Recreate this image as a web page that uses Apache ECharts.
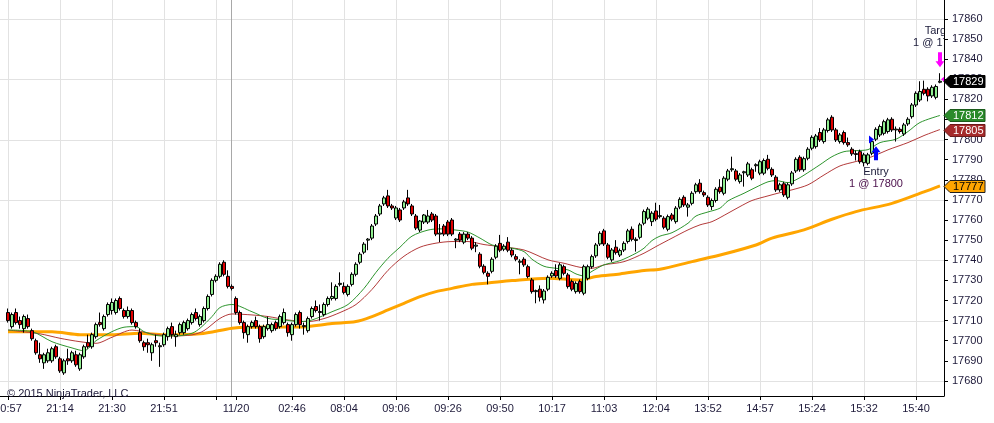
<!DOCTYPE html>
<html><head><meta charset="utf-8">
<script src="https://cdn.jsdelivr.net/npm/echarts@6/dist/echarts.min.js"></script>
<style>html,body{margin:0;padding:0;background:#fff}#c{width:994px;height:423px}</style>
</head><body><div id="c"></div>
<script>
// ---- data: OHLC per bar [open, close, low, high] ----
const ohlc = [
[17714,17710,17709,17716],[17707,17713,17706,17714],[17714,17709,17708,17716],[17710,17708,17706,17712],[17706,17712,17704,17713],
[17711,17707,17706,17713],[17705,17701,17700,17706],[17700,17694,17693,17701],[17693,17691,17689,17699],[17689,17693,17686,17694],
[17690,17694,17689,17696],[17690,17696,17689,17697],[17697,17692,17691,17698],[17691,17685,17684,17692],[17684,17690,17683,17691],
[17691,17690,17688,17696],[17690,17694,17689,17695],[17693,17688,17687,17695],[17686,17693,17685,17694],[17692,17697,17691,17698],
[17699,17697,17696,17703],[17697,17703,17696,17704],[17702,17708,17701,17709],[17709,17708,17707,17714],[17706,17712,17705,17713],
[17713,17718,17712,17719],[17715,17719,17713,17721],[17714,17720,17713,17721],[17721,17716,17715,17722],[17715,17712,17711,17716],
[17712,17715,17711,17717],[17715,17709,17708,17716],[17709,17707,17706,17710],[17704,17700,17699,17706],[17699,17697,17695,17700],
[17699,17698,17694,17701],[17694,17698,17690,17699],[17700,17699,17697,17703],[17697,17697.5,17687,17699],[17698,17703,17697,17704],
[17702,17706,17700,17707],[17707,17703,17701,17709],[17702,17703,17697,17705],[17704,17708,17703,17709],[17704,17709,17703,17710],
[17706,17710,17705,17711],[17709,17713,17708,17714],[17714,17711,17710,17716],[17708,17712,17707,17713],[17710,17716,17709,17717],
[17716,17722,17715,17723],[17723,17730,17722,17731],[17730,17732,17729,17733],[17732,17738,17731,17739],[17739,17733,17732,17740],
[17732,17727,17726,17735],[17727,17726,17725,17728],[17721,17714,17713,17722],[17714,17709,17708,17715],[17709,17704,17701,17710],
[17703,17707,17699,17708],[17707,17709,17706,17710],[17710,17707,17706,17712],[17707,17701,17699,17708],[17702,17707,17701,17708],
[17706,17708,17705,17712],[17705,17708,17704,17709],[17709,17706,17705,17710],[17707,17712,17706,17713],[17709,17714,17708,17716],
[17708,17704,17702,17709],[17703,17708,17700,17709],[17708,17713,17707,17714],[17714,17708,17706,17715],[17707,17707.5,17703,17709],
[17705,17711,17704,17712],[17712,17716,17711,17717],[17717,17715,17714,17720],[17714,17714.5,17710,17718],[17713,17718,17712,17719],
[17718,17721,17717,17722],[17721,17722,17720,17729],[17721,17727,17720,17728],[17728,17728.5,17727,17734],[17727,17724,17723,17729],
[17723,17727,17722,17728],[17728,17733,17727,17734],[17733,17738,17732,17739],[17739,17743,17738,17744],[17744,17748,17743,17749],
[17750,17750.5,17745,17751],[17751,17757,17750,17758],[17758,17762,17757,17763],[17763,17767,17762,17768],[17768,17771,17767,17772],
[17772,17767,17766,17775],[17767,17766,17765,17768],[17761,17766,17760,17767],[17765,17760,17759,17766],[17766,17769,17765,17770],
[17771,17768,17767,17775],[17767,17763,17762,17768],[17762,17756,17755,17763],[17755,17759.5,17754,17760],[17759,17762.5,17758,17763],
[17759,17762,17758,17765],[17763,17760,17759,17764],[17762,17753,17752,17763],[17753,17753.5,17749,17758],[17757,17753,17752,17758],
[17759,17753,17752,17760],[17760,17753,17752,17761],[17750,17750.5,17746,17751],[17753,17750,17749,17754],[17749,17753,17748,17754],
[17753,17751,17750,17754],[17751,17746,17745,17752],[17747,17747.5,17744,17749],[17743,17737,17736,17744],[17737,17734,17733,17738],
[17733.5,17732,17728,17734.5],[17734.5,17740.5,17733.5,17741.5],[17741.5,17747,17740.5,17748],[17748.4,17745,17744,17752.6],[17745.5,17747,17744.5,17748],
[17749,17745,17744,17751.5],[17745,17742.6,17741.5,17746],[17741.8,17740.5,17739.5,17743],[17739,17739.5,17733,17740.5],[17740.5,17737.7,17736.7,17741.5],
[17736.8,17731.9,17731,17737.8],[17730.2,17724.4,17723.4,17731.2],[17724.4,17724.9,17718.6,17725.4],[17725.6,17721.6,17719.5,17727.5],[17720.3,17724.7,17718.5,17725.7],
[17725.6,17731.5,17724.6,17732.5],[17732.2,17733.5,17731.2,17734.5],[17734.9,17732.2,17731.2,17738],[17731,17737.7,17730,17738.7],[17736.8,17733.5,17732.5,17737.8],
[17732.7,17726.9,17725.9,17733.7],[17729.4,17725.6,17724.6,17730.4],[17724.4,17728.5,17723.4,17729.5],[17729.4,17724.4,17723.4,17730.4],[17723.6,17736.8,17722.6,17737.8],
[17731,17736.8,17730,17737.8],[17736.8,17741.8,17735.8,17742.8],[17742.2,17747.6,17741.2,17748.6],[17748.1,17753.4,17747.1,17754.4],[17754.6,17748.1,17747.1,17755.6],
[17747.6,17741.5,17740.5,17748.6],[17740.2,17745.1,17739.2,17746.1],[17746.5,17743.8,17742.8,17750],[17742.6,17744.8,17741.6,17745.8],[17745.1,17748.4,17744.1,17749.4],
[17749.3,17754.6,17748.3,17755.6],[17755.4,17750.4,17749.4,17756.8],[17749.8,17750.4,17744.3,17751.4],[17751.4,17757.6,17750.4,17758.6],[17758.4,17764.2,17757.4,17765.2],
[17760.9,17765.4,17759.9,17766.4],[17759.2,17763.4,17757,17764.4],[17764.5,17760.4,17759.4,17768.6],[17761.7,17762.2,17760.8,17767.5],[17760.9,17756.4,17755.4,17761.9],
[17755.4,17761.7,17754.4,17762.7],[17762.5,17760.4,17759.4,17763.5],[17759.2,17765.9,17758.2,17766.9],[17766.4,17770.3,17765.4,17771.3],[17771.3,17767.5,17766.5,17772.3],
[17766.4,17767.5,17761.7,17768.5],[17768.3,17773.3,17767.3,17774.3],[17774.1,17777.5,17773.1,17778.5],[17778.3,17774.1,17773.1,17780.3],[17773.6,17772.5,17771.5,17774.6],
[17771.3,17767.5,17766.5,17772.3],[17766.7,17769.7,17765,17770.7],[17769.7,17775.3,17768.7,17776.3],[17776.3,17774.1,17773.1,17780.3],[17773.3,17780.8,17772.3,17781.8],
[17780.3,17784.4,17779.3,17785.4],[17785,17785.5,17784,17791.5],[17784.4,17780.3,17779.3,17785.4],[17779.1,17782.4,17778.1,17783.4],[17783.5,17784,17776.6,17784.5],
[17782.4,17787.9,17781.4,17788.9],[17785,17780.8,17779.8,17786],[17787,17787.5,17784,17788.2],[17783.3,17789,17782.3,17790],[17783.3,17789.6,17782.3,17790.6],
[17790.2,17785.7,17784.7,17792.4],[17785.2,17782.4,17781.4,17786.2],[17781.3,17775,17774,17782.3],[17775,17777.5,17774,17778.5],[17778,17772.5,17771.5,17779],
[17771.3,17777.5,17770.3,17778.5],[17778,17783.4,17777,17784.4],[17784.4,17790.2,17783.4,17791.2],[17791.2,17785,17784,17792.2],[17785,17790.5,17784,17791.5],
[17790.7,17795.2,17789.7,17796.2],[17795.7,17801.1,17794.7,17802.1],[17796.5,17801.8,17795.5,17802.8],[17803.5,17799.8,17798.8,17805.7],[17799,17804.8,17798,17805.8],
[17804.5,17809.8,17803.5,17810.8],[17811.1,17804.8,17803.8,17812.1],[17804.8,17799.8,17798.8,17805.8],[17799,17802.3,17798,17803.3],[17803.5,17798.5,17797.5,17804.5],
[17798.5,17797.4,17796.4,17801],[17795.2,17792.9,17791.9,17796.2],[17793,17792.6,17789.6,17794.6],[17794,17789,17788,17795],[17788.5,17792.4,17786.6,17793.4],
[17788.2,17792.4,17787.2,17793.4],[17793.2,17799,17792.2,17800],[17800.2,17805.1,17799.2,17806.1],[17802.3,17806.5,17801.3,17807.5],[17803.1,17808.9,17802.1,17809.9],
[17804,17809.8,17803,17810.8],[17810.1,17804.8,17803.8,17811.1],[17804.8,17805.2,17799,17806.5],[17805.1,17804,17803,17806.1],[17802.8,17807.3,17801.8,17808.3],
[17807.8,17810.1,17806.8,17811.1],[17811.4,17817.2,17810.4,17818.2],[17817.2,17823,17816.2,17824],[17819.7,17823.9,17818.7,17829],[17825,17823,17822,17829.3],
[17825,17821.7,17819,17826],[17821.7,17826,17820.7,17827],[17821,17826.4,17820,17827.4],[17828.5,17829,17828,17833]
];

// ---- moving averages: [bar, value] ----
const maFast = [[0,17705.3],[6,17704.5],[11,17699.5],[16,17696.4],[19,17695],[22,17700],[26,17704.5],[29,17706.7],[32,17707],[34,17704.5],
[38,17702.4],[42,17702.4],[46,17703.7],[48,17706.2],[51,17712],[53,17716.5],[56,17718],[61,17714.4],[65,17711.1],[69,17710.3],[73,17709.5],
[76,17710.3],[81,17714.4],[85,17718],[89,17726],[92,17734],[95,17741],[98,17746.5],[101,17752],[105,17755],[108,17755.6],[112,17755],
[115,17754],[118,17751],[121,17747.6],[123,17746.8],[126,17746],[129,17744.3],[131,17740.5],[134,17737],[137,17736],[140,17735.2],
[142,17733.2],[144,17732.2],[146,17734.5],[149,17737.7],[153,17739.8],[157,17743.5],[159,17746],[161,17749.8],[163,17752],[166,17753.7],
[170,17758.4],[172,17762],[175,17764],[178,17765.9],[180,17769.5],[184,17773.3],[187,17776.3],[190,17779],[192,17779.6],[195,17778.6],
[197,17780],[199,17782.3],[203,17787.5],[206,17791.5],[209,17794],[212,17794.5],[215,17795],[218,17798.5],[222,17800.2],[225,17804],
[228,17808.5],[233,17812]];
const maMid = [[0,17705.3],[8,17703.4],[13,17701.2],[18,17699.5],[22,17698.7],[26,17701.7],[31,17705.3],[36,17703.4],[41,17702.4],[46,17702.9],
[49,17705],[53,17711.1],[56,17713.3],[61,17712.8],[65,17712],[70,17710.3],[75,17709.5],[79,17711],[83,17714],[87,17718],[91,17725.5],
[95,17735],[99,17742],[103,17746.5],[107,17748.5],[111,17749.3],[115,17749.3],[119,17747.8],[123,17746.8],[129,17745.1],[135,17740.2],
[139,17738.5],[143,17736.5],[146,17736],[149,17737.7],[154,17739.3],[159,17743.5],[162,17746.8],[166,17751],[170,17755.1],[173,17757.6],
[176,17759.2],[180,17763.4],[183,17766.7],[186,17769.7],[190,17772],[193,17773.6],[196,17775],[200,17777.5],[204,17782.4],[208,17786.9],
[212,17789.1],[216,17791.5],[220,17794.9],[225,17798.5],[229,17802],[233,17805]];
const maSlow = [[0,17704.5],[11,17704.5],[18,17703],[26,17702.9],[33,17703.7],[39,17702.9],[48,17703.4],[56,17706.2],[60,17706.7],[73,17706.8],
[81,17708.5],[87,17709.5],[91,17712],[95,17715.3],[99,17718.6],[103,17721.9],[107,17724.4],[111,17726],[116,17728],[120,17728.7],
[126,17729.9],[135,17731.1],[143,17730.2],[147,17731.9],[153,17733.2],[159,17734.9],[163,17735.5],[171,17739.3],[179,17743.1],
[187,17747.6],[191,17751],[199,17755.1],[206,17760.4],[212,17764.2],[221,17768.3],[229,17774],[233,17777]];

// ---- axis labels ----
const xLabelBars  = [0,13,26,39,57,71,84,97,110,123,136,149,162,175,188,201,214,227];
const xLabelTexts = ['20:57','21:14','21:30','21:51','11/20','02:46','08:04','09:06','09:26','09:50','10:17','11:03','12:04','13:52','14:57','15:24','15:32','15:40'];
const gridBars = [0,13,26,39,52,71,84,97,110,123,136,149,162,175,188,201,214,227];
const sessionBreakBars = [56];
const hGridLevels = [17680,17710,17740,17770,17800,17830,17860];

// ---- executions ----
const trades = [
  {bar:217, price:17800, side:'buy',  name:'Entry',  qty:'1 @ 17800'},
  {bar:233, price:17830, side:'sell', name:'Target', qty:'1 @ 17830'}
];
// ---- right-axis price flags ----
const flagValues = [17829, 17812, 17805, 17777];
const flagFill   = ['#000000','#2a8a2a','#a52a2a','#ffa500'];
const flagStroke = ['#000000','#1a5a1a','#6a1a1a','#202020'];
const flagText   = ['#ffffff','#ffffff','#ffffff','#000000'];

// ---- build ----
const LEAD = 2;
const N = LEAD + ohlc.length + 1;
const LAST = N - 1;
const categories = Array.from({length:N}, (_, i) => String(i));
const labelMap = {}; xLabelBars.forEach((b,i) => labelMap[b+LEAD] = xLabelTexts[i]);
const gridSet = new Set(gridBars.map(b => b+LEAD));
const tickSet = new Set(gridBars.concat(xLabelBars).map(b => b+LEAD));
const FONT = 'Liberation Sans, Arial, sans-serif';
const TXT = '#1e1a3a';
const YMIN = 17672.5, YMAX = 17869.4;

const chart = echarts.init(document.getElementById('c'), null, {renderer:'canvas'});
const toLine = arr => arr.map(p => [p[0]+LEAD, p[1]]);

chart.setOption({
  animation:false,
  backgroundColor:'#ffffff',
  title:{text:'\u00a9 2015 NinjaTrader, LLC', left:2, top:383, textStyle:{fontFamily:FONT, fontSize:11, fontWeight:'normal', color:TXT}},
  grid:{left:0, right:50, top:0, bottom:27, containLabel:false, outerBoundsMode:'none'},
  xAxis:{type:'category', data:categories, boundaryGap:false,
    axisLine:{show:true, lineStyle:{color:'#000', width:1}},
    axisTick:{show:true, length:4, interval:(i)=>tickSet.has(i), lineStyle:{color:'#000'}},
    axisLabel:{interval:(i)=>labelMap[i]!==undefined, formatter:(v,i)=>labelMap[i]||'', margin:7, fontFamily:FONT, fontSize:11, color:TXT, hideOverlap:false},
    splitLine:{show:true, interval:(i)=>gridSet.has(i), lineStyle:{color:'#e2e2e2', width:1}}
  },
  yAxis:{type:'value', position:'right', min:YMIN, max:YMAX, splitNumber:20, minInterval:10, maxInterval:10,
    axisLine:{show:true, lineStyle:{color:'#000', width:1}},
    axisTick:{show:true, length:4, lineStyle:{color:'#000'}},
    axisLabel:{margin:8, fontFamily:FONT, fontSize:11, color:TXT, showMinLabel:false, showMaxLabel:false,
      formatter:(v)=> (Math.abs(v % 10) < 1e-6 ? String(Math.round(v)) : '')},
    splitLine:{show:false}
  },
  series:[
    {type:'custom', name:'hgrid', z:0, silent:true, clip:false,
      data:hGridLevels.map(v => [0, v]), encode:{x:0, y:1},
      renderItem:(params, api) => {
        const cs = params.coordSys; const y = Math.round(api.coord([0, api.value(1)])[1]) + 0.5;
        return {type:'line', shape:{x1:cs.x, y1:y, x2:cs.x+cs.width, y2:y}, style:{stroke:'#e2e2e2', lineWidth:1}};
      }},
    {type:'custom', name:'session', z:1, silent:true, clip:false,
      data:sessionBreakBars.map(b => [b+LEAD, YMIN]), encode:{x:0, y:1},
      renderItem:(params, api) => {
        const cs = params.coordSys; const x = Math.round(api.coord([api.value(0), YMIN])[0]) - 0.5;
        return {type:'line', shape:{x1:x, y1:cs.y, x2:x, y2:cs.y+cs.height}, style:{stroke:'#a8a8a8', lineWidth:1}};
      }},
    {type:'line', name:'SMA', data:toLine(maSlow), smooth:0.3, symbol:'none', z:2, lineStyle:{color:'#ffa500', width:3}},
    {type:'line', name:'EMA slow', data:toLine(maMid), smooth:0.3, symbol:'none', z:2, lineStyle:{color:'#b33a3a', width:1}},
    {type:'line', name:'EMA fast', data:toLine(maFast), smooth:0.3, symbol:'none', z:2, lineStyle:{color:'#2e952e', width:1}},
    {type:'candlestick', name:'ES', z:3, barWidth:3,
      data:ohlc.map((d,i) => [i+LEAD, d[0], d[1], d[2], d[3]]), encode:{x:0, y:[1,2,3,4]},
      itemStyle:{color:'#90ee90', color0:'#e00000', borderColor:'#000', borderColor0:'#000', borderColorDoji:'#000', borderWidth:1}},
    {type:'custom', name:'trades', z:5, silent:true, clip:true,
      data:trades.map(t => [t.bar+LEAD, t.price]), encode:{x:0, y:1},
      renderItem:(params, api) => {
        const t = trades[params.dataIndex]; const bar = ohlc[t.bar];
        const p = api.coord([t.bar+LEAD, t.price]); const x = p[0], yP = p[1];
        const font = '11px ' + FONT;
        if (t.side === 'buy') {
          const col = '#0000ff';
          const top = api.coord([t.bar+LEAD, bar[2]])[1] + 5;
          return {type:'group', children:[
            {type:'polygon', shape:{points:[[x-7,yP-4],[x-2,yP],[x-7,yP+4]]}, style:{fill:col}},
            {type:'polygon', shape:{points:[[x,top],[x+4.5,top+6],[x+2,top+6],[x+2,top+14],[x-2,top+14],[x-2,top+6],[x-4.5,top+6]]}, style:{fill:col}},
            {type:'text', style:{text:t.name, x:x, y:top+26, align:'center', verticalAlign:'middle', font:font, fill:'#20203e'}},
            {type:'text', style:{text:t.qty, x:x, y:top+38, align:'center', verticalAlign:'middle', font:font, fill:'#4a0e4a'}}
          ]};
        } else {
          const col = '#ff00ff';
          const bot = api.coord([t.bar+LEAD, bar[3]])[1] - 6;
          return {type:'group', children:[
            {type:'polygon', shape:{points:[[x+1,yP],[x+6,yP-4],[x+6,yP+4]]}, style:{fill:col}},
            {type:'polygon', shape:{points:[[x,bot],[x+4.5,bot-6],[x+2,bot-6],[x+2,bot-15],[x-2,bot-15],[x-2,bot-6],[x-4.5,bot-6]]}, style:{fill:col}},
            {type:'text', style:{text:t.qty, x:x, y:bot-24, align:'center', verticalAlign:'middle', font:font, fill:'#20203e'}},
            {type:'text', style:{text:t.name, x:x, y:bot-36, align:'center', verticalAlign:'middle', font:font, fill:'#20203e'}}
          ]};
        }
      }},
    {type:'custom', name:'flags', z:10, silent:true, clip:false,
      data:flagValues.map(v => [LAST, v]), encode:{x:0, y:1},
      renderItem:(params, api) => {
        const i = params.dataIndex;
        const p = api.coord([LAST, api.value(1)]); const x0 = p[0], y = Math.round(p[1]) + 0.5;
        return {type:'group', children:[
          {type:'polygon', shape:{points:[[x0,y],[x0+6,y-6],[x0+41,y-6],[x0+41,y+6],[x0+6,y+6]]}, style:{fill:flagFill[i], stroke:flagStroke[i], lineWidth:1}},
          {type:'text', style:{text:String(flagValues[i]), x:x0+9, y:y, align:'left', verticalAlign:'middle', font:'11px ' + FONT, fill:flagText[i]}}
        ]};
      }}
  ]
});
</script></body></html>
